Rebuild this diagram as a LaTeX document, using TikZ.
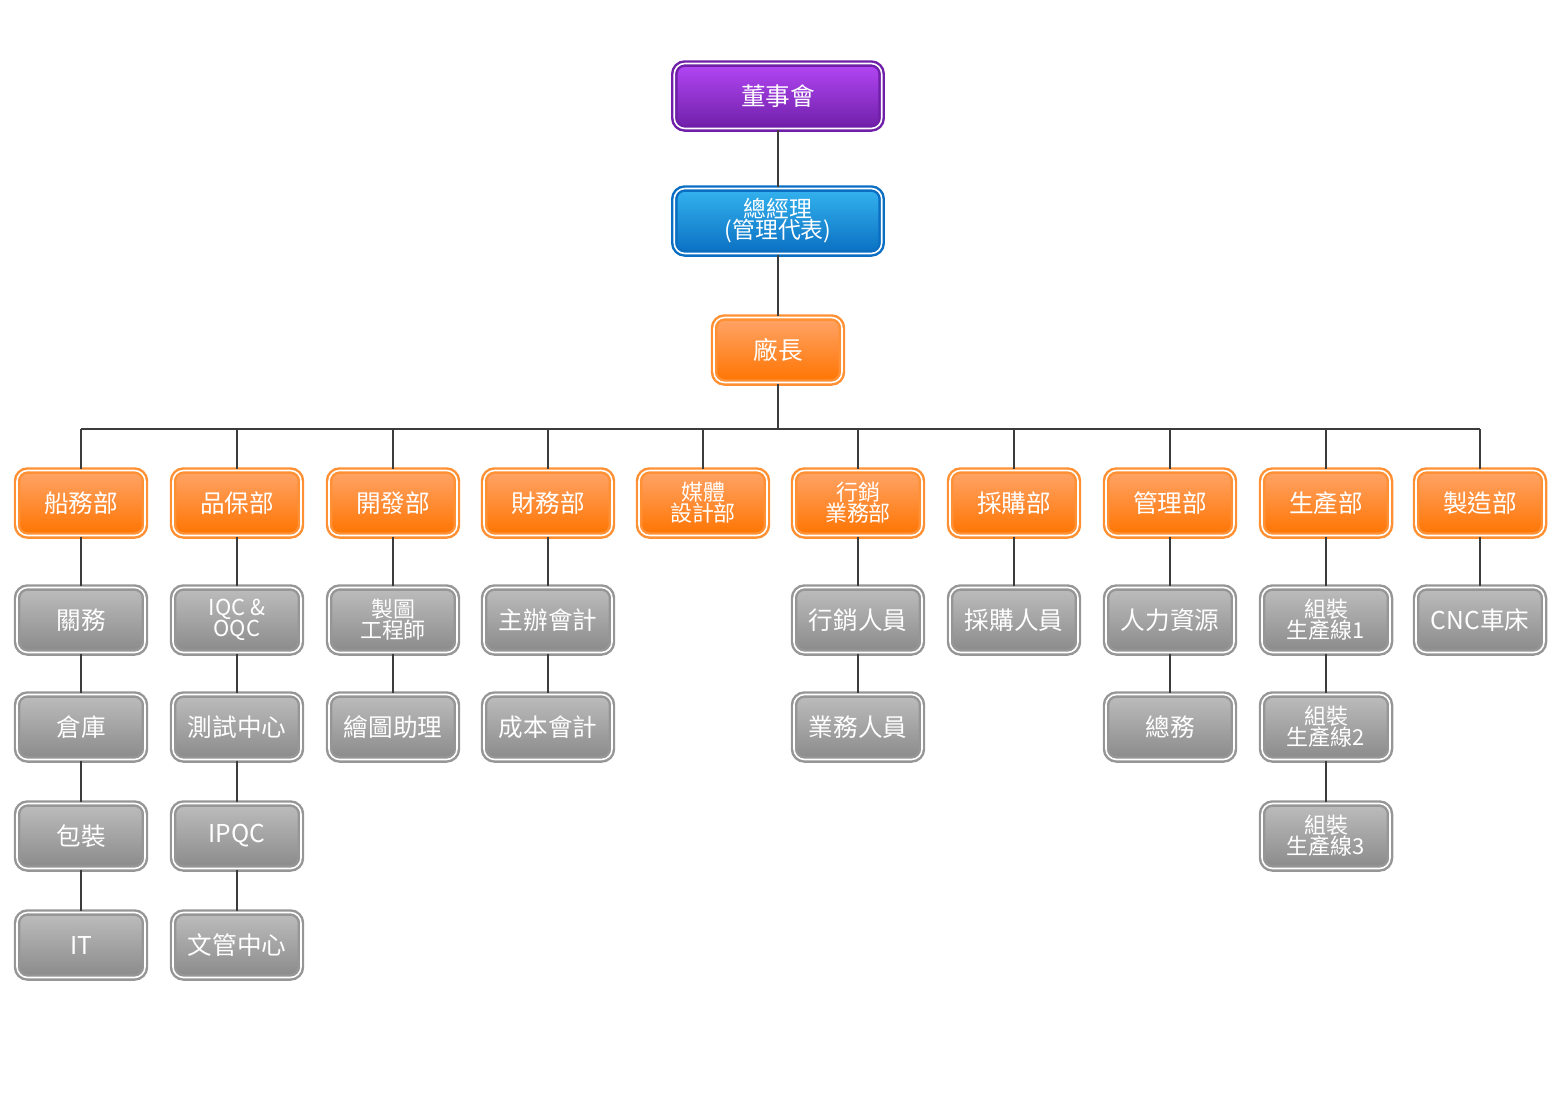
\documentclass[tikz,border=0pt]{standalone}
\usepackage{fontspec}
\setmainfont{Noto Sans CJK TC}
\usetikzlibrary{positioning}
\definecolor{orgT}{HTML}{FFA468}
\definecolor{orgB}{HTML}{FF7400}
\definecolor{gryT}{HTML}{BDBDBD}
\definecolor{gryB}{HTML}{8A8A8A}
\definecolor{purT}{HTML}{B347F5}
\definecolor{purB}{HTML}{6F1FA8}
\definecolor{bluT}{HTML}{34B3EE}
\definecolor{bluB}{HTML}{0A6FC2}
\definecolor{lnk}{HTML}{3C3C3C}
\begin{document}
\begin{tikzpicture}[x=0.02cm,y=-0.02cm]
\tikzset{box/.style = {rectangle,rounded corners=6pt,minimum width=2.56cm,minimum height=1.3cm,
  text=white,align=center,font=\fontsize{14}{15}\selectfont,line width=1.4pt,double=white,double distance=0.9pt,inner sep=1pt}}
\tikzset{org/.style = {box,draw=orgB!80,top color=orgT,bottom color=orgB}}
\tikzset{gry/.style = {box,draw=gryB!90,top color=gryT,bottom color=gryB}}
\tikzset{two/.style = {font=\fontsize{12.5}{12}\selectfont}}
\tikzset{link/.style = {draw=lnk,line width=1.6pt}}
\useasboundingbox (0,0) rectangle (1556,1100);
% top
\node[box,draw=purB,top color=purT,bottom color=purB,minimum width=4.15cm] (board) at (778,96) {董事會};
\node[box,draw=bluB,top color=bluT,bottom color=bluB,minimum width=4.15cm,font=\fontsize{13}{12}\selectfont] (gm) at (778,221) {總經理\\(管理代表)};
\node[org] (fm) at (778,350) {廠長};
% departments
\node[org] (d1) at (81,503) {船務部};
\node[org] (d2) at (237,503) {品保部};
\node[org] (d3) at (393,503) {開發部};
\node[org] (d4) at (548,503) {財務部};
\node[org,two] (d5) at (703,503) {媒體\\設計部};
\node[org,two] (d6) at (858,503) {行銷\\業務部};
\node[org] (d7) at (1014,503) {採購部};
\node[org] (d8) at (1170,503) {管理部};
\node[org] (d9) at (1326,503) {生產部};
\node[org] (d10) at (1480,503) {製造部};
% units
\node[gry] (a1) at (81,620) {關務};
\node[gry] (a2) at (81,727) {倉庫};
\node[gry] (a3) at (81,836) {包裝};
\node[gry] (a4) at (81,945) {IT};
\node[gry,two] (b1) at (237,620) {IQC \&\\OQC};
\node[gry] (b2) at (237,727) {測試中心};
\node[gry] (b3) at (237,836) {IPQC};
\node[gry] (b4) at (237,945) {文管中心};
\node[gry,two] (c1) at (393,620) {製圖\\工程師};
\node[gry] (c2) at (393,727) {繪圖助理};
\node[gry] (e1) at (548,620) {主辦會計};
\node[gry] (e2) at (548,727) {成本會計};
\node[gry] (f1) at (858,620) {行銷人員};
\node[gry] (f2) at (858,727) {業務人員};
\node[gry] (g1) at (1014,620) {採購人員};
\node[gry] (h1) at (1170,620) {人力資源};
\node[gry] (h2) at (1170,727) {總務};
\node[gry,two] (k1) at (1326,620) {組裝\\生產線1};
\node[gry,two] (k2) at (1326,727) {組裝\\生產線2};
\node[gry,two] (k3) at (1326,836) {組裝\\生產線3};
\node[gry] (m1) at (1480,620) {CNC車床};
% links
\draw[link] (board) -- (gm);
\draw[link] (gm) -- (fm);
\coordinate (bus) at (778,429);
\draw[link] (fm) -- (bus);
\draw[link] (d1.north |- bus) -- (d10.north |- bus);
\foreach \d in {d1,d2,d3,d4,d5,d6,d7,d8,d9,d10}
  \draw[link] (\d.north |- bus) -- (\d);
\draw[link] (d1) -- (a1) -- (a2) -- (a3) -- (a4);
\draw[link] (d2) -- (b1) -- (b2) -- (b3) -- (b4);
\draw[link] (d3) -- (c1) -- (c2);
\draw[link] (d4) -- (e1) -- (e2);
\draw[link] (d6) -- (f1) -- (f2);
\draw[link] (d7) -- (g1);
\draw[link] (d8) -- (h1) -- (h2);
\draw[link] (d9) -- (k1) -- (k2) -- (k3);
\draw[link] (d10) -- (m1);
\end{tikzpicture}
\end{document}
